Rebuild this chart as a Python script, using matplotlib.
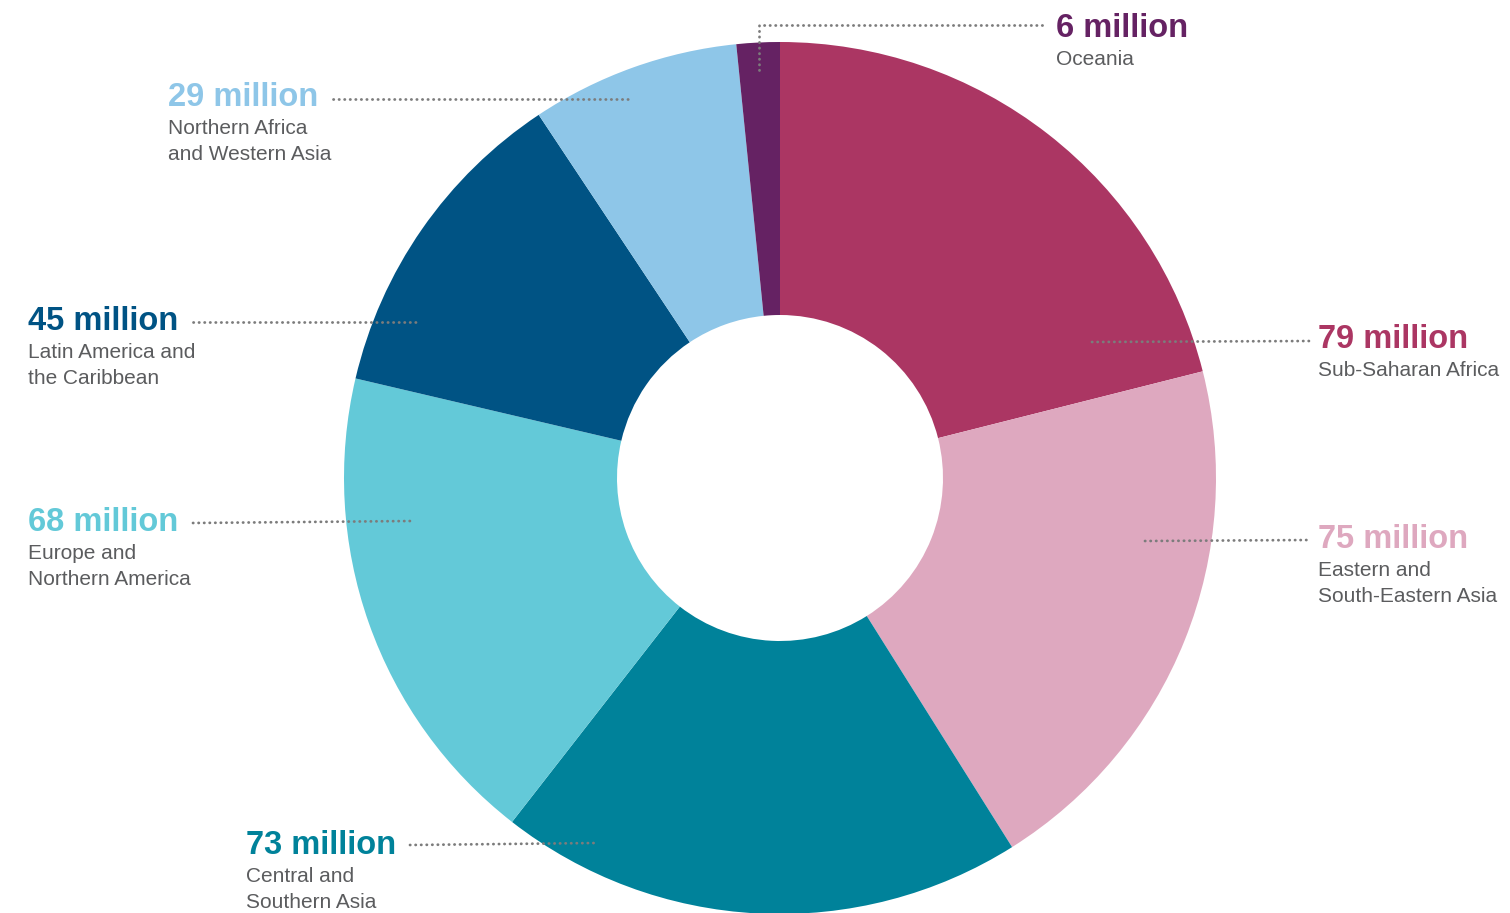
import matplotlib
matplotlib.use("Agg")
import matplotlib.pyplot as plt

# Regional totals, clockwise from the top
regions = ["Sub-Saharan Africa", "Eastern and\nSouth-Eastern Asia", "Central and\nSouthern Asia",
           "Europe and\nNorthern America", "Latin America and\nthe Caribbean",
           "Northern Africa\nand Western Asia", "Oceania"]
millions = [79, 75, 73, 68, 45, 29, 6]
colors = ["#ab3663", "#dea8bf", "#00829a", "#63c9d8", "#005384", "#8ec6e8", "#652263"]

# label anchors (pixel coords from top-left) and leader lines
label_pos = [(1318, 348), (1318, 548), (246, 854), (28, 531), (28, 330), (168, 106), (1056, 37)]
leaders = [
    [(1092, 342), (1310, 341)],
    [(1145, 541), (1310, 540)],
    [(410, 845), (597, 843)],
    [(193, 523), (412, 521)],
    [(193, 322), (416, 322)],
    [(333, 99), (632, 99)],
    [(759, 70), (759, 25), (1043, 25)],
]

W, H = 1510, 913
fig = plt.figure(figsize=(W / 100, H / 100), dpi=100)
ax = fig.add_axes([0, 0, 1, 1])

cx, cy = 780, 478
r_out, r_in = 436, 163
ax.pie(millions, colors=colors, startangle=90, counterclock=False,
       center=(cx, H - cy), radius=r_out,
       wedgeprops=dict(width=r_out - r_in, linewidth=0))

ax.set_xlim(0, W)
ax.set_ylim(0, H)
ax.set_aspect("equal")
ax.axis("off")

for pts in leaders:
    xs = [p[0] for p in pts]
    ys = [H - p[1] for p in pts]
    ax.plot(xs, ys, color="#7c7c7c", lw=2.0, linestyle=(0, (0.1, 1.9)),
            dash_capstyle="round", zorder=5)

for name, val, col, (lx, ly) in zip(regions, millions, colors, label_pos):
    ax.text(lx, H - ly, f"{val} million", color=col, fontsize=23.5, fontweight="bold",
            family="Liberation Sans", ha="left", va="baseline")
    for i, line in enumerate(name.split("\n")):
        ax.text(lx, H - (ly + 28 + 26 * i), line, color="#5b5c5e", fontsize=15,
                family="Liberation Sans", ha="left", va="baseline")

plt.savefig("out.png", dpi=100)
